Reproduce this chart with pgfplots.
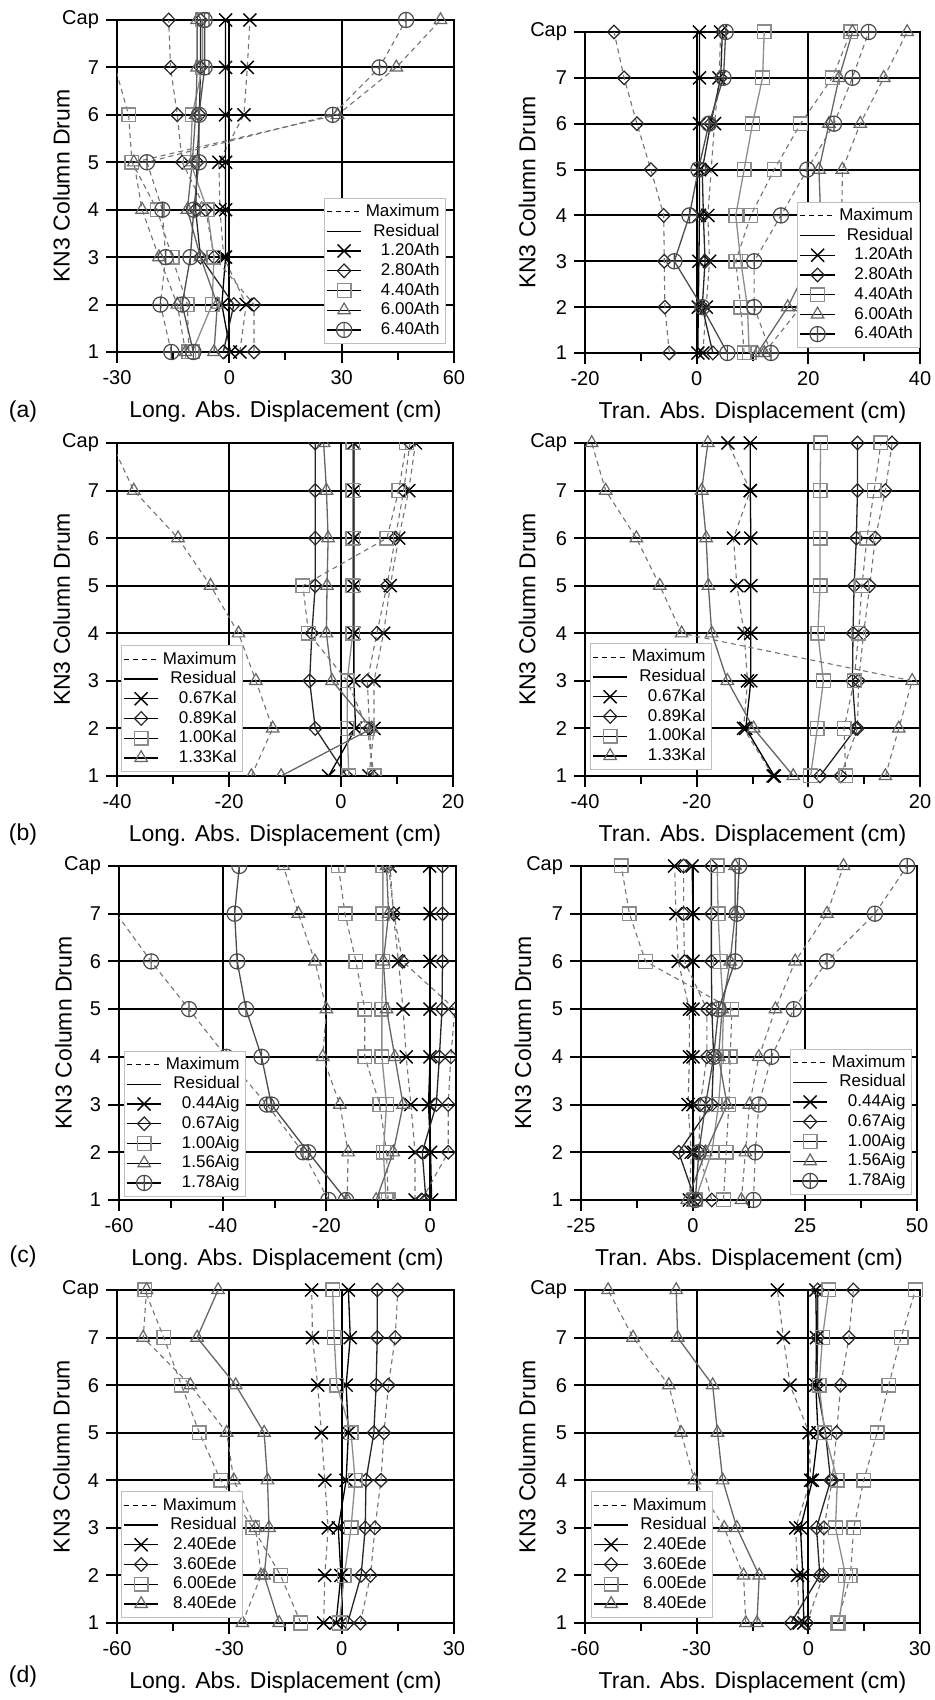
\documentclass[border=0pt]{standalone}
\usepackage{fontspec}
\setmainfont{Liberation Sans}
\usepackage{pgfplots}
\usepackage{pgfplotstable}
\pgfplotsset{compat=1.18}

% drum 8 = Cap ; M = maximum, R = residual
\pgfplotstableread{
drum cxM  cxR  dmM   dmR  sqM   sqR   trM   trR   opM   opR
1    2.8  0.3  6.6  -1.6 -10.8  -9.9 -11.7  -4.1 -15.5  -9.6
2    4.5 -2.0  6.6   1.2 -11.2  -4.6 -13.9  -3.2 -18.4 -12.6
3   -1.5 -1.0 -4.1  -7.7 -15.3  -4.1 -18.8  -7.7 -17.0 -10.4
4   -2.5 -1.0 -6.3  -9.0 -19.3  -5.9 -23.3 -11.2 -17.9  -9.5
5   -2.8 -1.0 -12.6 -8.6 -26.0 -10.4 -25.5  -9.9 -22.0  -8.1
6    3.9 -1.0 -13.9 -8.0 -26.9  -9.9  28.9  -9.0  27.6  -8.1
7    4.8 -1.0 -15.7 -7.7 -30.5  -7.2  44.6  -8.6  40.1  -6.6
8    5.5 -1.0 -16.2 -7.7 -31.0  -7.2  56.4  -8.6  47.2  -6.6
}\athL
\pgfplotstableread{
drum cxM cxR  dmM   dmR  sqM  sqR  trM  trR  opM  opR
1    1.1 0.2  -4.9  2.9  8.5  9.4 12.1 10.9 13.3  5.5
2    1.7 0.3  -5.7  1.0  7.9  9.1 18.6 16.3 10.3  1.0
3    2.3 0.4  -5.8  1.5  7.0  7.9 23.4 20.4 10.3 -4.0
4    2.0 0.5  -5.9  1.2  9.7  7.0 26.0 22.2 15.1 -1.3
5    2.6 0.5  -8.2  1.0 13.9  8.5 26.1 21.9 19.8  0.3
6    3.2 0.5 -10.7  2.5 18.6 10.0 29.3 23.7 24.6  2.2
7    4.0 0.5 -13.0  4.3 24.3 11.8 33.5 25.5 27.9  4.8
8    4.3 0.5 -14.8  4.6 27.6 12.1 37.7 27.9 30.8  5.2
}\athT
\pgfplotstableread{
drum cxM  cxR  dmM  dmR  sqM  sqR  trM   trR
1    5.0 -2.2  5.6  1.0  5.9  1.4 -16.0 -10.7
2    5.9  2.6  5.1 -4.6  4.7  1.1 -12.2   5.5
3    5.9  2.3  4.7 -5.6  1.1  1.1 -15.2  -1.6
4    7.6  2.3  6.4 -5.2 -5.8  2.1 -18.3  -2.6
5    8.8  2.3  8.2 -4.6 -6.8  2.1 -23.3  -2.5
6   10.3  2.3  9.7 -4.6  8.2  2.1 -29.1  -2.3
7   12.1  2.3 11.2 -4.6 10.3  2.1 -37.0  -2.6
8   13.3  2.3 12.3 -4.6 11.7  2.1 -41.0  -3.1
}\kalL
\pgfplotstableread{
drum cxM   cxR   dmM  dmR  sqM  sqR  trM   trR
1    -6.3  -6.1  5.8  2.1  6.7  0.4  13.8  -2.7
2   -11.6 -11.2  8.8  8.5  6.4  1.6  16.2  -9.8
3   -10.9 -10.3  9.0  7.9  8.2  2.7  18.6 -14.5
4   -11.5 -10.3  9.9  8.0  9.0  1.7 -22.7 -17.3
5   -12.8 -10.3 11.0  8.2  9.6  2.1 -26.6 -17.9
6   -13.4 -10.3 12.0  8.6 10.5  2.1 -30.8 -18.3
7   -10.4 -10.4 13.8  8.8 11.8  2.1 -36.3 -19.1
8   -14.4 -10.4 15.0  8.8 13.0  2.2 -38.8 -18.0
}\kalT
\pgfplotstableread{
drum cxM  cxR  dmM  dmR  sqM   sqR  trM   trR   opM   opR
1   -2.9  0.3 -1.6 -0.8  -8.1 -8.5 -16.0 -10.4 -19.6 -16.2
2   -2.9  0.1  3.5 -1.5  -8.4 -9.0 -15.8  -7.1 -24.5 -23.5
3   -3.7 -0.3  3.5  1.2  -9.7 -8.4 -17.4  -5.2 -31.5 -30.6
4   -4.6  0.0  4.0  1.8 -12.6 -9.3 -20.7  -6.8 -39.3 -32.5
5   -5.2  0.0  4.8  2.3 -12.6 -9.3 -20.0  -8.4 -46.5 -35.5
6   -6.1  0.0 -5.3  2.4 -14.3 -9.1 -22.2  -9.0 -53.8 -37.2
7   -7.1  0.0 -7.0  2.4 -16.4 -9.1 -25.4  -8.0 -60.5 -37.7
8   -7.7 -0.1 -8.0  2.4 -17.7 -9.1 -28.3  -8.4 -63.0 -36.8
}\aigL
\pgfplotstableread{
drum cxM  cxR  dmM  dmR  sqM   sqR  trM  trR  opM  opR
1   -0.8  0.0  4.2  0.5   6.8  0.5 10.8 -1.3 13.5  0.5
2   -0.4  0.2  1.3 -3.2   7.4  4.2 11.7  2.8 13.9  1.3
3   -1.1  0.0  1.6  4.2   8.0  5.7 12.6  7.6 14.7  2.8
4   -0.8  0.0  3.1  4.6   8.3  6.5 14.7  5.7 17.5  4.6
5   -0.8  0.0  3.1  4.2   8.7  6.8 18.4  6.5 22.5  5.7
6   -3.3  0.0 -1.9  4.1 -10.6  6.1 22.8  8.3 29.9  9.4
7   -3.8  0.0 -2.1  4.1 -14.2  5.6 29.9  9.4 40.6  9.8
8   -4.1 -0.2 -2.1  4.1 -16.0  5.4 33.6  9.4 47.8 10.3
}\aigT
\pgfplotstableread{
drum cxM  cxR  dmM  dmR  sqM   sqR  trM   trR
1   -4.8 -1.5  5.0  1.6 -10.9 -0.6 -26.5 -16.7
2   -4.5 -0.2  7.7  5.2 -16.3  0.7 -21.5 -20.7
3   -3.6 -0.9  8.9  6.3 -23.7  2.5 -23.0 -19.4
4   -4.5  1.2 10.5  6.5 -32.3  3.6 -28.8 -19.8
5   -5.4  1.8 11.3  8.6 -38.0  2.5 -30.7 -20.7
6   -6.4  1.2 12.5  9.2 -42.8 -1.3 -40.4 -28.3
7   -7.8  2.3 14.3  9.5 -47.5 -2.0 -53.0 -38.6
8   -8.0  1.8 15.0  9.5 -52.6 -2.4 -52.1 -33.0
}\edeL
\pgfplotstableread{
drum cxM  cxR  dmM  dmR  sqM  sqR  trM   trR
1   -2.5 -1.2 -0.4 -4.7  7.8  8.2 -16.8 -13.8
2   -2.9 -1.5  4.0  3.1 11.3 10.0 -17.4 -13.2
3   -3.4 -2.1  4.2  2.2 12.2  7.3 -22.6 -19.2
4    0.6  1.1  6.4  6.0 14.9  7.8 -30.6 -23.0
5    0.2  2.6  7.6  4.6 18.5  4.4 -34.2 -24.4
6   -4.9  2.0  8.7  2.3 21.6  2.9 -37.5 -25.7
7   -6.7  2.2 10.9  2.5 24.9  3.8 -47.1 -35.1
8   -8.3  2.0 12.1  2.5 28.8  5.5 -53.8 -35.5
}\edeT

\pgfplotsset{
  kn3/.style={
    scale only axis, anchor=south west,
    ymin=1, ymax=8, ytick={1,...,8}, yticklabels={1,2,3,4,5,6,7,Cap},
    grid=major, major grid style={black, line width=1pt},
    axis line style={line width=1pt},
    tick align=outside, tick pos=left,
    major tick length=5.5pt, minor tick length=4pt,
    minor x tick num=1,
    every tick/.style={black, line width=1pt},
    tick label style={font=\fontsize{10}{12}\selectfont},
    label style={font=\fontsize{11.5}{13}\selectfont},
    xlabel style={at={(axis description cs:0.5,0)}, anchor=center, yshift=-30pt},
    ylabel style={at={(axis description cs:-0.165,0.5)}, anchor=center},
    ylabel={KN3 Column Drum},
    legend cell align=right,
    legend style={draw=black!25, fill=white, font=\fontsize{8.5}{9}\selectfont,
      inner sep=1pt, row sep=-1.8pt},
  },
  mxl/.style={dash pattern=on 2.5pt off 2pt, draw=black!55, line width=0.55pt},
  rsl/.style={solid, line width=0.65pt},
  sX/.style={color=black, mark=x, mark size=4.6pt, mark options={solid, draw=black, line width=0.7pt}},
  sD/.style={color=black!85, mark=diamond, mark size=3.4pt, mark options={solid, xscale=1.3, draw=black!85, line width=0.6pt}},
  sS/.style={color=black!45, mark=square, mark size=3.4pt, mark options={solid, draw=black!45, line width=0.7pt}},
  sT/.style={color=black!60, mark=triangle, mark size=3.6pt, mark options={solid, draw=black!60, line width=0.6pt}},
  sO/.style={color=black!70, mark=oplus, mark size=3.8pt, mark options={solid, draw=black!70, line width=0.6pt}},
}

\newcommand{\pair}[3]{%
  \addplot[#3, mxl, forget plot] table[x=#2M, y=drum] {#1};
  \addplot[#3, rsl, forget plot] table[x=#2R, y=drum] {#1};}
\newcommand{\keyhead}{%
  \addlegendimage{mxl, draw=black}\addlegendentry{Maximum}
  \addlegendimage{black, rsl}\addlegendentry{Residual}}

\begin{document}
\begin{tikzpicture}
\path[use as bounding box] (0,0) rectangle (467.5pt,850pt);

% (a)
\begin{axis}[kn3, at={(58.5pt,674pt)}, width=168.5pt, height=166pt,
  xmin=-30, xmax=60, xtick={-30,0,30,60}, xticklabels={-30,0,30,60},
  xlabel={Long. Abs. Displacement (cm)},
  legend style={at={(0.976,0.024)}, anchor=south east}]
\pair{\athL}{cx}{sX}\pair{\athL}{dm}{sD}\pair{\athL}{sq}{sS}
\pair{\athL}{tr}{sT}\pair{\athL}{op}{sO}
\keyhead
\addlegendimage{sX, black, rsl}\addlegendentry{1.20Ath}
\addlegendimage{sD, black, rsl}\addlegendentry{2.80Ath}
\addlegendimage{sS, black, rsl}\addlegendentry{4.40Ath}
\addlegendimage{sT, black, rsl}\addlegendentry{6.00Ath}
\addlegendimage{sO, black, rsl}\addlegendentry{6.40Ath}
\end{axis}

\begin{axis}[kn3, at={(292.5pt,673.5pt)}, width=167.5pt, height=160.5pt,
  xmin=-20, xmax=40, xtick={-20,0,20,40}, xticklabels={-20,0,20,40},
  xlabel={Tran. Abs. Displacement (cm)},
  ylabel style={at={(axis description cs:-0.173,0.5)}},
  legend style={at={(0.998,0.015)}, anchor=south east}]
\pair{\athT}{cx}{sX}\pair{\athT}{dm}{sD}\pair{\athT}{sq}{sS}
\pair{\athT}{tr}{sT}\pair{\athT}{op}{sO}
\keyhead
\addlegendimage{sX, black, rsl}\addlegendentry{1.20Ath}
\addlegendimage{sD, black, rsl}\addlegendentry{2.80Ath}
\addlegendimage{sS, black, rsl}\addlegendentry{4.40Ath}
\addlegendimage{sT, black, rsl}\addlegendentry{6.00Ath}
\addlegendimage{sO, black, rsl}\addlegendentry{6.40Ath}
\end{axis}

% (b)
\begin{axis}[kn3, at={(58.5pt,462pt)}, width=168pt, height=166.5pt,
  xmin=-40, xmax=20, xtick={-40,-20,0,20}, xticklabels={-40,-20,0,20},
  xlabel={Long. Abs. Displacement (cm)}, clip marker paths=true,
  legend style={at={(0.012,0.012)}, anchor=south west}]
\pair{\kalL}{cx}{sX}\pair{\kalL}{dm}{sD}\pair{\kalL}{sq}{sS}
\pair{\kalL}{tr}{sT}
\keyhead
\addlegendimage{sX, black, rsl}\addlegendentry{0.67Kal}
\addlegendimage{sD, black, rsl}\addlegendentry{0.89Kal}
\addlegendimage{sS, black, rsl}\addlegendentry{1.00Kal}
\addlegendimage{sT, black, rsl}\addlegendentry{1.33Kal}
\end{axis}

\begin{axis}[kn3, at={(292.5pt,462pt)}, width=167.5pt, height=166.5pt,
  xmin=-40, xmax=20, xtick={-40,-20,0,20}, xticklabels={-40,-20,0,20},
  xlabel={Tran. Abs. Displacement (cm)},
  ylabel style={at={(axis description cs:-0.173,0.5)}},
  legend style={at={(0.015,0.018)}, anchor=south west}]
\pair{\kalT}{cx}{sX}\pair{\kalT}{dm}{sD}\pair{\kalT}{sq}{sS}
\pair{\kalT}{tr}{sT}
\keyhead
\addlegendimage{sX, black, rsl}\addlegendentry{0.67Kal}
\addlegendimage{sD, black, rsl}\addlegendentry{0.89Kal}
\addlegendimage{sS, black, rsl}\addlegendentry{1.00Kal}
\addlegendimage{sT, black, rsl}\addlegendentry{1.33Kal}
\end{axis}

% (c)
\begin{axis}[kn3, at={(59.5pt,250pt)}, width=168.5pt, height=167pt,
  xmin=-60, xmax=5, xtick={-60,-40,-20,0}, xticklabels={-60,-40,-20,0},
  xlabel={Long. Abs. Displacement (cm)}, clip marker paths=true,
  legend style={at={(0.015,0.009)}, anchor=south west}]
\pair{\aigL}{cx}{sX}\pair{\aigL}{dm}{sD}\pair{\aigL}{sq}{sS}
\pair{\aigL}{tr}{sT}\pair{\aigL}{op}{sO}
\keyhead
\addlegendimage{sX, black, rsl}\addlegendentry{0.44Aig}
\addlegendimage{sD, black, rsl}\addlegendentry{0.67Aig}
\addlegendimage{sS, black, rsl}\addlegendentry{1.00Aig}
\addlegendimage{sT, black, rsl}\addlegendentry{1.56Aig}
\addlegendimage{sO, black, rsl}\addlegendentry{1.78Aig}
\end{axis}

\begin{axis}[kn3, at={(290.5pt,250pt)}, width=168pt, height=167pt,
  xmin=-25, xmax=50, xtick={-25,0,25,50}, xticklabels={-25,0,25,50},
  xlabel={Tran. Abs. Displacement (cm)},
  ylabel style={at={(axis description cs:-0.173,0.5)}},
  legend style={at={(0.985,0.015)}, anchor=south east}]
\pair{\aigT}{cx}{sX}\pair{\aigT}{dm}{sD}\pair{\aigT}{sq}{sS}
\pair{\aigT}{tr}{sT}\pair{\aigT}{op}{sO}
\keyhead
\addlegendimage{sX, black, rsl}\addlegendentry{0.44Aig}
\addlegendimage{sD, black, rsl}\addlegendentry{0.67Aig}
\addlegendimage{sS, black, rsl}\addlegendentry{1.00Aig}
\addlegendimage{sT, black, rsl}\addlegendentry{1.56Aig}
\addlegendimage{sO, black, rsl}\addlegendentry{1.78Aig}
\end{axis}

% (d)
\begin{axis}[kn3, at={(58.5pt,38.5pt)}, width=168.5pt, height=166.5pt,
  xmin=-60, xmax=30, xtick={-60,-30,0,30}, xticklabels={-60,-30,0,30},
  xlabel={Long. Abs. Displacement (cm)},
  legend style={at={(0.012,0.015)}, anchor=south west}]
\pair{\edeL}{cx}{sX}\pair{\edeL}{dm}{sD}\pair{\edeL}{sq}{sS}
\pair{\edeL}{tr}{sT}
\keyhead
\addlegendimage{sX, black, rsl}\addlegendentry{2.40Ede}
\addlegendimage{sD, black, rsl}\addlegendentry{3.60Ede}
\addlegendimage{sS, black, rsl}\addlegendentry{6.00Ede}
\addlegendimage{sT, black, rsl}\addlegendentry{8.40Ede}
\end{axis}

\begin{axis}[kn3, at={(292.5pt,38.5pt)}, width=167.5pt, height=166.5pt,
  xmin=-60, xmax=30, xtick={-60,-30,0,30}, xticklabels={-60,-30,0,30},
  xlabel={Tran. Abs. Displacement (cm)},
  ylabel style={at={(axis description cs:-0.173,0.5)}},
  legend style={at={(0.018,0.015)}, anchor=south west}]
\pair{\edeT}{cx}{sX}\pair{\edeT}{dm}{sD}\pair{\edeT}{sq}{sS}
\pair{\edeT}{tr}{sT}
\keyhead
\addlegendimage{sX, black, rsl}\addlegendentry{2.40Ede}
\addlegendimage{sD, black, rsl}\addlegendentry{3.60Ede}
\addlegendimage{sS, black, rsl}\addlegendentry{6.00Ede}
\addlegendimage{sT, black, rsl}\addlegendentry{8.40Ede}
\end{axis}

\begin{scope}[every node/.style={font=\fontsize{11.5}{13}\selectfont}]
\node at (11.5pt,644pt) {(a)};
\node at (11.5pt,432.5pt) {(b)};
\node at (11.5pt,221.5pt) {(c)};
\node at (11.5pt,11.5pt) {(d)};
\end{scope}
\end{tikzpicture}
\end{document}
